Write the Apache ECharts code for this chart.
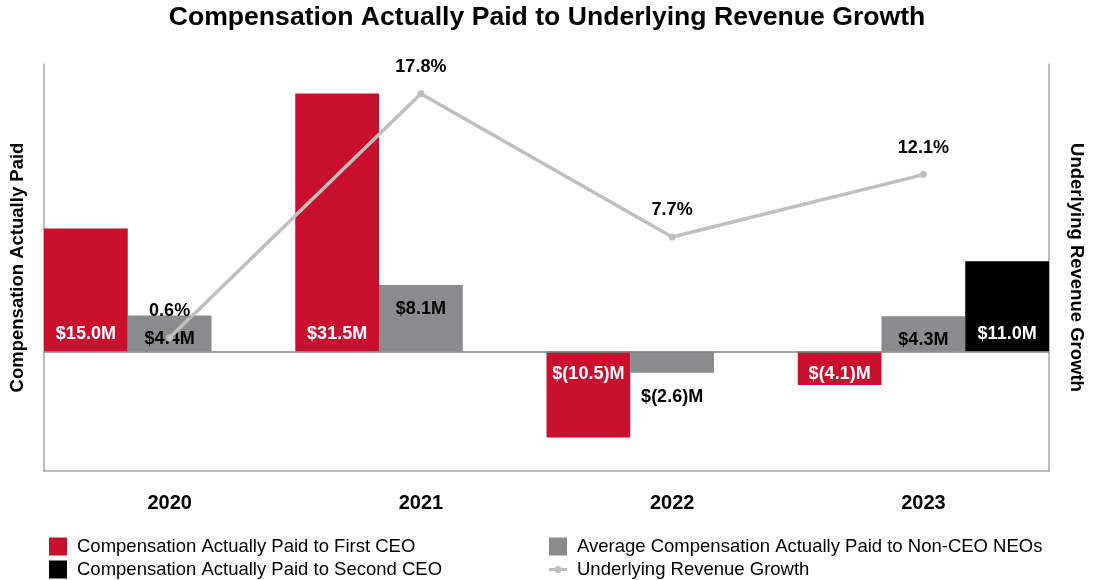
<!DOCTYPE html>
<html>
<head>
<meta charset="utf-8">
<script src="https://cdn.jsdelivr.net/npm/echarts@6/dist/echarts.min.js"></script>
<style>
  html, body { margin: 0; padding: 0; background: #fff; }
  #chart { width: 1094px; height: 580px; }
</style>
</head>
<body>
<div id="chart"></div>
<script>
var categories = ['2020', '2021', '2022', '2023'];
var firstCeo = [15.0, 31.5, -10.5, -4.1];
var nonCeoNeos = [4.4, 8.1, -2.6, 4.3];
var secondCeo = [null, null, null, 11.0];
var revenueGrowth = [0.6, 17.8, 7.7, 12.1];

var FONT = 'Arial, "Liberation Sans", Helvetica, sans-serif';
var RED = '#C8102E', GRAY = '#898B8D', BLACK = '#000000', LINE = '#BFBFBF';
var LINE_ICON = 'path://M0,2.5 L18,2.5 L18,5.5 L0,5.5 Z M9,0.5 A3.5,3.5 0 1 1 9,7.5 A3.5,3.5 0 1 1 9,0.5 Z';

function money(v) {
  return v < 0 ? '$(' + Math.abs(v).toFixed(1) + ')M' : '$' + v.toFixed(1) + 'M';
}
var labelBase = { show: true, fontFamily: FONT, fontSize: 18, fontWeight: 'bold' };

function baseLabels(arr, color) {
  return arr.map(function (v) {
    if (v == null) return null;
    var lab = Object.assign({}, labelBase, { color: color, formatter: money(v) });
    if (v >= 0) { lab.position = 'insideBottom'; lab.distance = 8; }
    else { lab.position = 'insideTop'; lab.distance = 14; }
    return { value: v, label: lab };
  });
}
function endLabels(arr, color) {
  return arr.map(function (v) {
    if (v == null) return null;
    var lab = Object.assign({}, labelBase, { color: color, formatter: money(v) });
    if (v >= 0) { lab.position = 'insideTop'; lab.distance = 15; }
    else { lab.position = 'bottom'; lab.distance = 15; }
    return { value: v, label: lab };
  });
}

var chart = echarts.init(document.getElementById('chart'), null, { renderer: 'canvas' });
var axisLineStyle = { color: '#A6A6A6', width: 1.5 };
var legendText = { fontFamily: FONT, fontSize: 18.5, color: '#000', padding: [0, 0, 0, 5] };
chart.setOption({
  animation: false,
  backgroundColor: '#fff',
  title: {
    text: 'Compensation Actually Paid to Underlying Revenue Growth',
    left: 'center', top: 4, padding: 0,
    textStyle: { fontFamily: FONT, fontSize: 26.6, fontWeight: 'bold', color: '#000' }
  },
  legend: [
    {
      orient: 'vertical', left: 49, top: 537, height: 80, itemWidth: 18, itemHeight: 18, itemGap: 4,
      padding: 0, textStyle: legendText,
      data: [
        { name: 'Compensation Actually Paid to First CEO', icon: 'rect' },
        { name: 'Compensation Actually Paid to Second CEO', icon: 'rect' }
      ]
    },
    {
      orient: 'vertical', left: 549, top: 537, height: 80, itemWidth: 18, itemHeight: 18, itemGap: 4,
      padding: 0, textStyle: legendText,
      data: [
        { name: 'Average Compensation Actually Paid to Non-CEO NEOs', icon: 'rect' },
        { name: 'Underlying Revenue Growth', icon: LINE_ICON }
      ]
    }
  ],
  grid: { left: 43, right: 44, top: 64, bottom: 109, containLabel: false },
  xAxis: {
    type: 'category', data: categories,
    axisLine: { show: true, onZero: false, lineStyle: axisLineStyle },
    axisTick: { show: false },
    axisLabel: { fontFamily: FONT, fontSize: 20, fontWeight: 'bold', color: '#000', margin: 22 },
    splitLine: { show: false }
  },
  yAxis: [
    {
      type: 'value', min: -14.6, max: 35.1,
      name: 'Compensation Actually Paid', nameLocation: 'middle', nameGap: 17,
      nameTextStyle: { fontFamily: FONT, fontSize: 18.5, fontWeight: 'bold', color: '#000' },
      axisLine: { show: true, lineStyle: axisLineStyle },
      axisTick: { show: false }, axisLabel: { show: false }, splitLine: { show: false }
    },
    {
      type: 'value', min: -8.8, max: 19.9, position: 'right',
      name: 'Underlying Revenue Growth', nameLocation: 'middle', nameGap: 18, nameRotate: -90,
      nameTextStyle: { fontFamily: FONT, fontSize: 18.5, fontWeight: 'bold', color: '#000' },
      axisLine: { show: true, lineStyle: axisLineStyle },
      axisTick: { show: false }, axisLabel: { show: false }, splitLine: { show: false }
    }
  ],
  series: [
    {
      name: 'Compensation Actually Paid to First CEO', type: 'bar', yAxisIndex: 0,
      barGap: '0%', barCategoryGap: '0%',
      itemStyle: { color: RED },
      data: baseLabels(firstCeo, '#fff'),
      markLine: {
        silent: true, symbol: ['none', 'none'], label: { show: false },
        lineStyle: { color: '#808080', width: 1.5, type: 'solid' },
        data: [{ yAxis: 0 }]
      }
    },
    {
      name: 'Average Compensation Actually Paid to Non-CEO NEOs', type: 'bar', yAxisIndex: 0,
      barGap: '0%', barCategoryGap: '0%',
      itemStyle: { color: GRAY },
      data: endLabels(nonCeoNeos, '#000')
    },
    {
      name: 'Compensation Actually Paid to Second CEO', type: 'bar', yAxisIndex: 0,
      barGap: '0%', barCategoryGap: '0%',
      itemStyle: { color: BLACK },
      data: baseLabels(secondCeo, '#fff')
    },
    {
      name: 'Underlying Revenue Growth', type: 'line', yAxisIndex: 1, z: 3,
      symbol: 'circle', symbolSize: 7,
      lineStyle: { color: LINE, width: 3.5 },
      itemStyle: { color: LINE },
      label: {
        show: true, position: 'top', distance: 14,
        fontFamily: FONT, fontSize: 18, fontWeight: 'bold', color: '#000',
        formatter: function (p) { return p.value.toFixed(1) + '%'; }
      },
      data: revenueGrowth
    }
  ]
});
</script>
</body>
</html>
